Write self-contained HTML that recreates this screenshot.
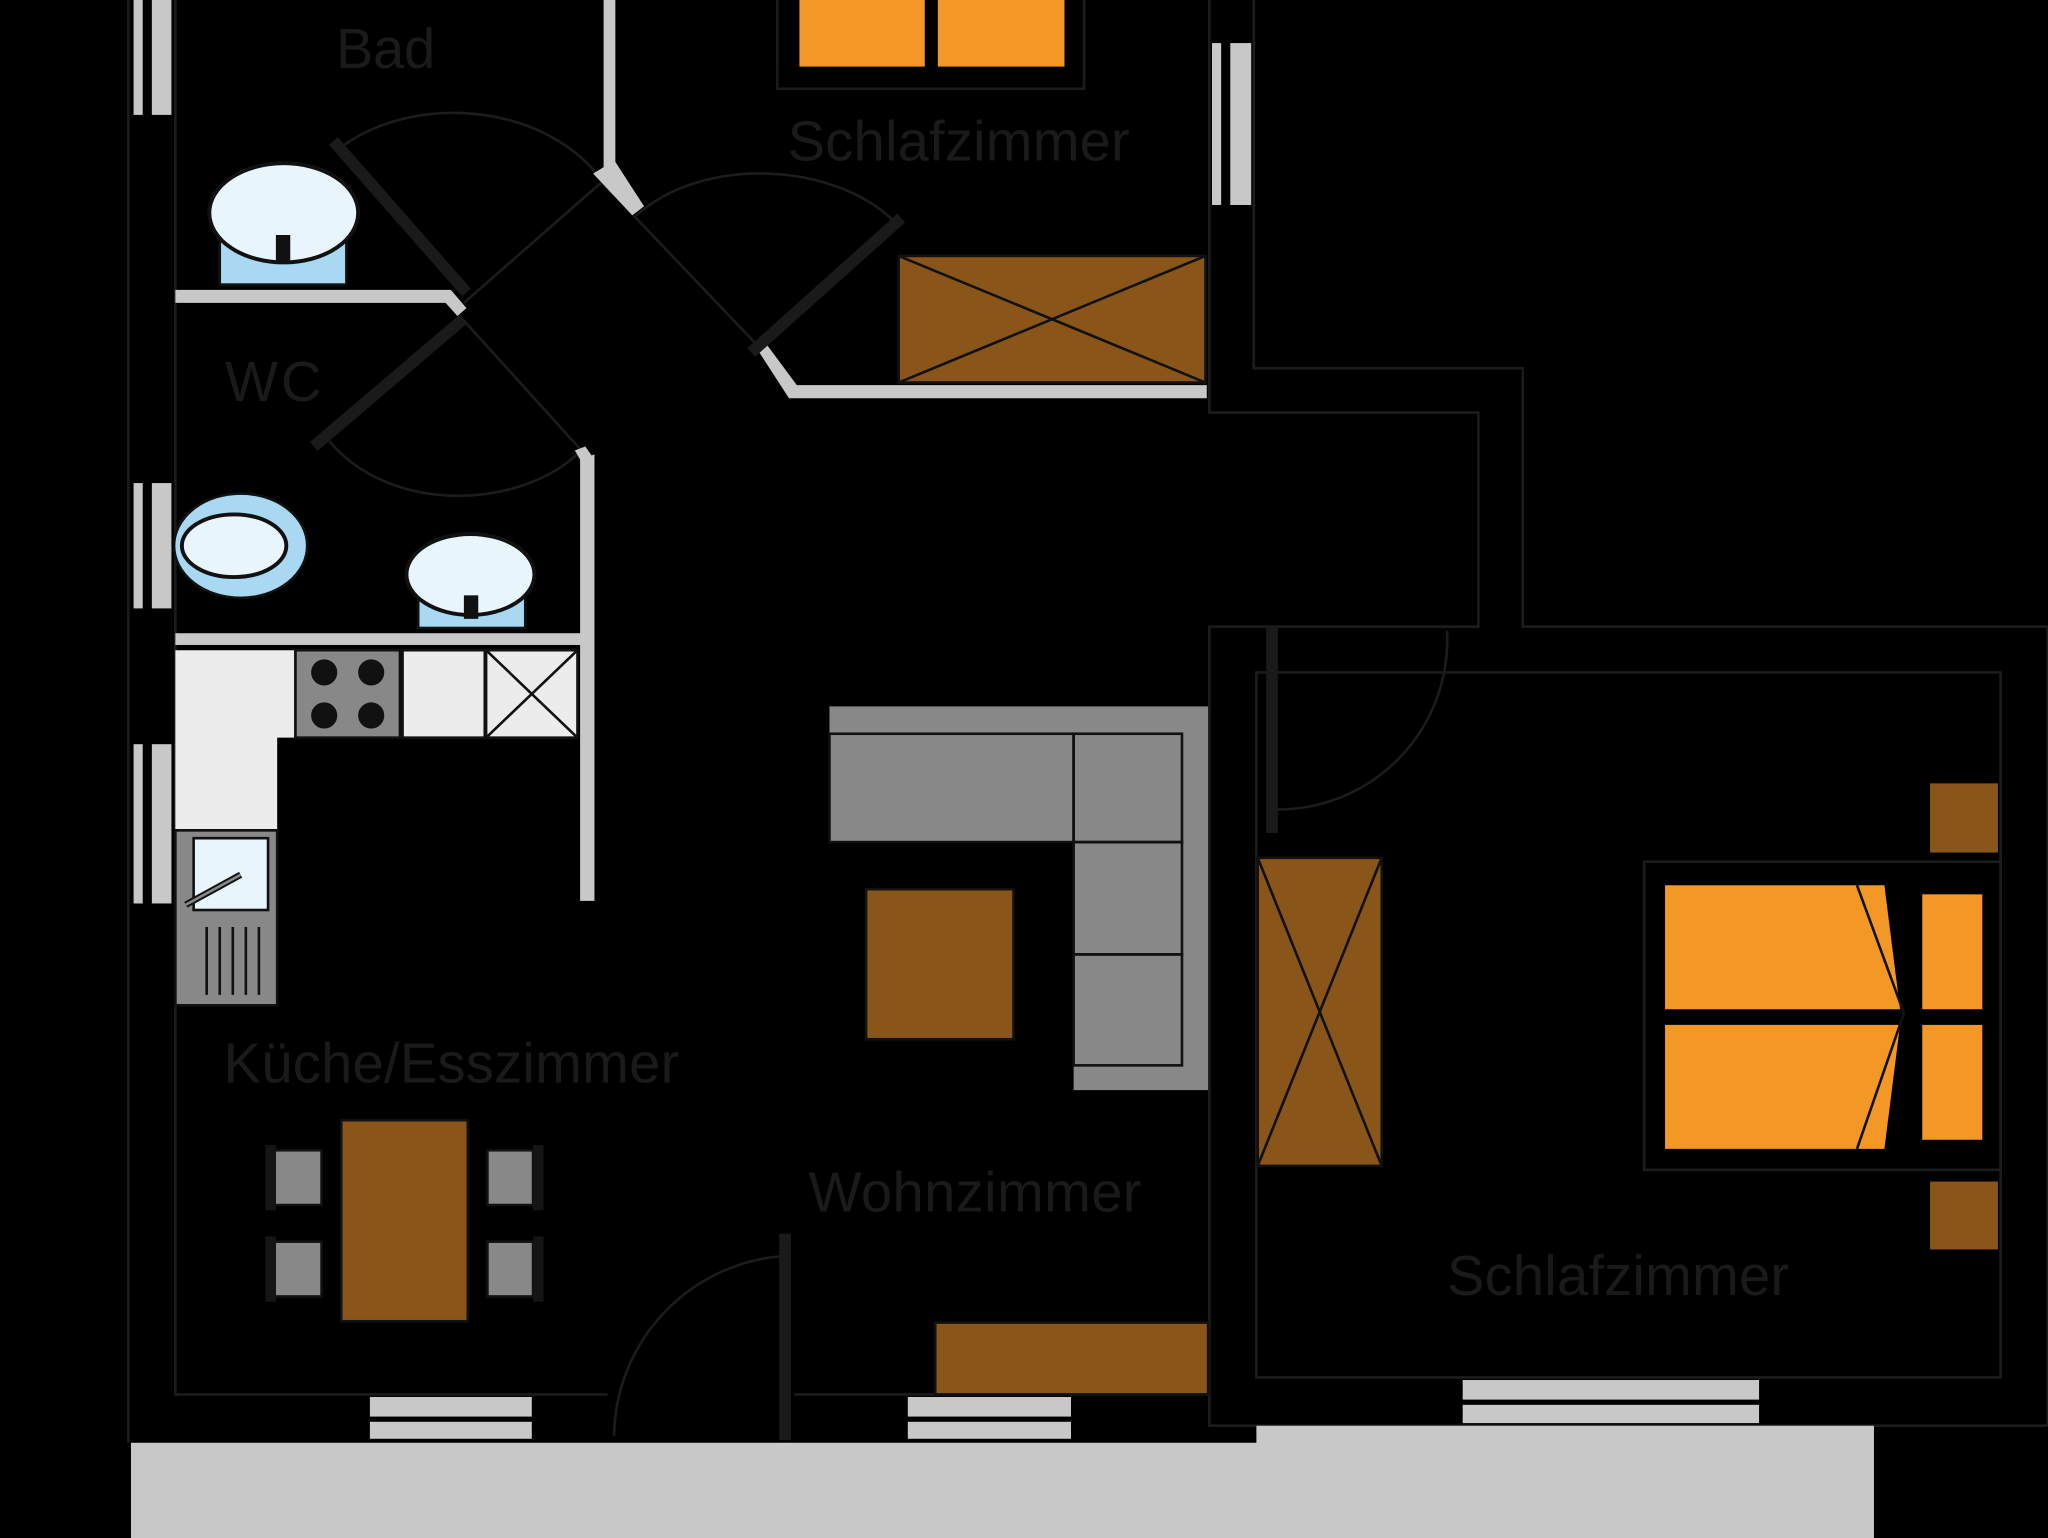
<!DOCTYPE html>
<html><head><meta charset="utf-8"><style>html,body{margin:0;padding:0;background:#000}svg{display:block}</style></head>
<body>
<svg width="2048" height="1538" viewBox="0 0 1568 1178" xmlns="http://www.w3.org/2000/svg" font-family="Liberation Sans, sans-serif">
<rect width="1568" height="1178" fill="#000"/>
<g stroke="#1c1c1c" stroke-width="2" fill="none">
<path d="M98 0V1105M134 0V1068H465M608 1068H926M926 0V316H1132V480H926V1092H1568M960 0V282H1166V480H1568V1092M962 515H1532V1055H962Z"/>
<path d="M262 112C320 70 420 80 462 140M487 165C540 118 640 125 685 170M252 338C300 395 400 390 445 345M470 1100A140 140 0 0 1 600 962M975 620A130 130 0 0 0 1108 483"/>
<path d="M355 232L460 140M350 240L445 345M485 165L585 270"/>
</g>
<path d="M100 1105H962V1092H1435V1178H100Z" fill="#c8c8c8"/>
<g fill="#c8c8c8">
<rect x="102" y="0" width="7" height="88"/><rect x="116" y="0" width="15" height="88"/>
<rect x="102" y="370" width="7" height="96"/><rect x="116" y="370" width="15" height="96"/>
<rect x="102" y="570" width="7" height="122"/><rect x="116" y="570" width="15" height="122"/>
<rect x="928" y="33" width="7" height="124"/><rect x="942" y="33" width="16" height="124"/>
<rect x="283" y="1070" width="124" height="15"/><rect x="283" y="1089" width="124" height="13"/>
<rect x="695" y="1070" width="125" height="15"/><rect x="695" y="1089" width="125" height="13"/>
<rect x="1120" y="1057" width="227" height="15"/><rect x="1120" y="1076" width="227" height="14"/>
</g>
<g fill="#c8c8c8">
<path d="M134 222H345L357 236L350 242L341 232H134Z"/>
<rect x="462" y="0" width="9" height="128"/>
<path d="M462 128L471 124L493 158L484 165L454 133Z"/>
<path d="M580 268L587 264L610 295H924V305H604Z"/>
<rect x="134" y="485" width="311" height="9"/>
<path d="M444 352L455 348V690H444Z"/>
<path d="M440 345L448 342L455 352H444Z"/>
</g>
<g stroke="#1a1a1a" stroke-width="9">
<line x1="255" y1="108" x2="357" y2="224"/>
<line x1="240" y1="342" x2="355" y2="244"/>
<line x1="575" y1="270" x2="690" y2="167"/>
<line x1="601" y1="945" x2="601" y2="1103"/>
<line x1="974" y1="480" x2="974" y2="638"/>
</g>
<rect x="168" y="183" width="97" height="35" fill="#a8d8f2" stroke="#111" stroke-width="2"/>
<ellipse cx="217" cy="163" rx="57" ry="38" fill="#e8f5fd" stroke="#111" stroke-width="3"/>
<rect x="211" y="180" width="11" height="20" fill="#111"/>
<ellipse cx="184" cy="418" rx="51" ry="40" fill="#a8d8f2" stroke="#111" stroke-width="2"/>
<ellipse cx="179" cy="418" rx="40" ry="24" fill="#e8f5fd" stroke="#111" stroke-width="3"/>
<rect x="320" y="456" width="82" height="25" fill="#a8d8f2" stroke="#111" stroke-width="2"/>
<ellipse cx="360" cy="440" rx="49" ry="31" fill="#e8f5fd" stroke="#111" stroke-width="3"/>
<rect x="355" y="456" width="11" height="18" fill="#111"/>
<path d="M134 498H225V565H212V635H134Z" fill="#ececec"/>
<rect x="226" y="498" width="80" height="67" fill="#888" stroke="#111" stroke-width="2"/>
<g fill="#111" stroke="#888" stroke-width="2"><circle cx="248" cy="515" r="11"/><circle cx="284" cy="515" r="11"/><circle cx="248" cy="548" r="11"/><circle cx="284" cy="548" r="11"/></g>
<rect x="308" y="498" width="63" height="67" fill="#ececec" stroke="#111" stroke-width="2"/>
<rect x="372" y="498" width="70" height="67" fill="#ececec" stroke="#111" stroke-width="2"/>
<path d="M372 498L442 565M442 498L372 565" stroke="#111" stroke-width="2"/>
<rect x="134" y="636" width="78" height="134" fill="#888" stroke="#111" stroke-width="2"/>
<rect x="148" y="642" width="57" height="55" fill="#e8f5fd" stroke="#111" stroke-width="2"/>
<line x1="142" y1="693" x2="184" y2="670" stroke="#111" stroke-width="5"/>
<line x1="142" y1="693" x2="184" y2="670" stroke="#888" stroke-width="2"/>
<g stroke="#111" stroke-width="2"><line x1="158" y1="710" x2="158" y2="762"/><line x1="168" y1="710" x2="168" y2="762"/><line x1="178" y1="710" x2="178" y2="762"/><line x1="188" y1="710" x2="188" y2="762"/><line x1="198" y1="710" x2="198" y2="762"/></g>
<rect x="595" y="-2" width="235" height="70" fill="none" stroke="#1c1c1c" stroke-width="2"/>
<rect x="612" y="0" width="96" height="51" fill="#f39726"/>
<rect x="718" y="0" width="97" height="51" fill="#f39726"/>
<rect x="688" y="196" width="235" height="97" fill="#8a5519" stroke="#111" stroke-width="2"/>
<path d="M688 196L923 293M923 196L688 293" stroke="#111" stroke-width="2"/>
<path d="M635 541H925V835H822V645H635Z" fill="#888"/>
<g fill="none" stroke="#111" stroke-width="2"><rect x="635" y="562" width="187" height="83"/><rect x="822" y="562" width="83" height="83"/><rect x="822" y="645" width="83" height="86"/><rect x="822" y="731" width="83" height="85"/></g>
<rect x="663" y="681" width="113" height="115" fill="#8a5519" stroke="#111" stroke-width="2"/>
<rect x="261" y="858" width="97" height="154" fill="#8a5519" stroke="#111" stroke-width="2"/>
<g fill="#888" stroke="#111" stroke-width="2"><rect x="210" y="881" width="36" height="42"/><rect x="210" y="951" width="36" height="42"/><rect x="373" y="881" width="35" height="42"/><rect x="373" y="951" width="35" height="42"/></g>
<g fill="#151515"><rect x="203" y="877" width="8" height="50"/><rect x="203" y="947" width="8" height="50"/><rect x="408" y="877" width="8" height="50"/><rect x="408" y="947" width="8" height="50"/></g>
<rect x="716" y="1013" width="209" height="55" fill="#8a5519" stroke="#111" stroke-width="2"/>
<rect x="963" y="657" width="95" height="236" fill="#8a5519" stroke="#111" stroke-width="2"/>
<path d="M963 657L1058 893M1058 657L963 893" stroke="#111" stroke-width="2"/>
<rect x="1259" y="660" width="273" height="236" fill="none" stroke="#1c1c1c" stroke-width="2"/>
<path d="M1275 678H1443L1455 773H1275Z" fill="#f39726"/>
<path d="M1275 785H1455L1443 880H1275Z" fill="#f39726"/>
<path d="M1422 678L1458 776L1422 880" fill="none" stroke="#111" stroke-width="2"/>
<rect x="1472" y="685" width="46" height="88" fill="#f39726"/>
<rect x="1472" y="785" width="46" height="88" fill="#f39726"/>
<rect x="1478" y="600" width="52" height="53" fill="#8a5519"/>
<rect x="1478" y="905" width="52" height="52" fill="#8a5519"/>
<g fill="#1a1a1a" font-size="43">
<text x="257" y="52" textLength="76">Bad</text>
<text x="603" y="123" textLength="262">Schlafzimmer</text>
<text x="172" y="307" textLength="74">WC</text>
<text x="171" y="829" textLength="349">Küche/Esszimmer</text>
<text x="619" y="928" textLength="255">Wohnzimmer</text>
<text x="1108" y="992" textLength="262">Schlafzimmer</text>
</g>
</svg>
</body></html>
